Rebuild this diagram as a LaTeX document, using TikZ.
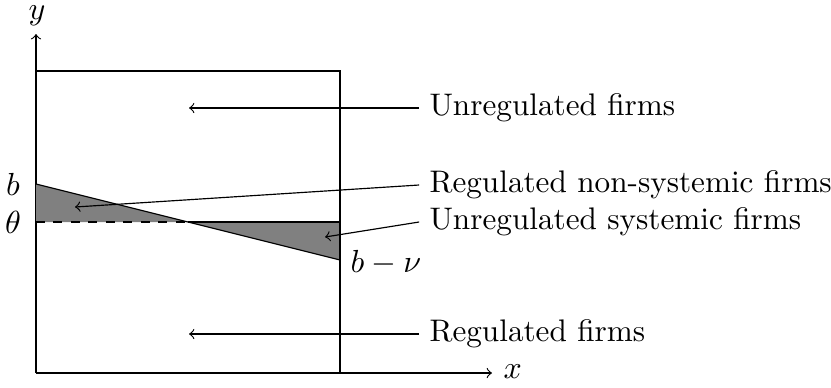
\documentclass[tikz,border=0pt]{standalone}
\usepackage{amsmath}
\usepackage{tikz}
\usetikzlibrary{positioning,arrows.meta,calc}

\begin{document}
\begin{tikzpicture}[x=0.343pt, y=-0.343pt, font=\fontsize{10.7}{13}\selectfont, >=to,
  lbl/.style={anchor=west, inner sep=0pt}]
\useasboundingbox (0,0) rectangle (831,387);
% axes
\coordinate (o) at (36,373);
\coordinate (ytop) at (36,34);
\coordinate (xend) at (492,373);
\draw[->] (o) -- (ytop);
\draw[->] (o) -- (xend);
\node[inner sep=0pt] (ylab) at (37,16) {$y$};
\node[lbl] (xlab) at (503,372) {$x$};
% box
\coordinate (tl) at (36,71);
\coordinate (br) at (340,373);
\draw (tl) -| (br);
% shaded wedges
\coordinate (pb) at (36,184);
\coordinate (pth) at (36,222);
\coordinate (cross) at (188,222);
\coordinate (rth) at (340,222);
\coordinate (pbn) at (340,260);
\fill[gray] (pb) -- (cross) -- (pth) -- cycle;
\fill[gray] (cross) -- (rth) -- (pbn) -- cycle;
\draw (pb) -- (pbn);
\draw[dashed, thin] (pth) -- (cross);
\draw (cross) -- (rth) -- (pbn);
\node (blab) at (13,184) {$b$};
\node (thlab) at (13,222) {$\theta$};
\node[lbl] (bnlab) at (350,263) {$b-\nu$};
% labels
\node[lbl] (unreg) at (429,108) {Unregulated firms};
\node[lbl] (regns) at (429,185) {Regulated non-systemic firms};
\node[lbl] (unregs) at (429,222) {Unregulated systemic firms};
\node[lbl] (reg) at (429,334) {Regulated firms};
\coordinate (a1) at (189,108);
\coordinate (a2) at (75,207);
\coordinate (a3) at (325,237);
\coordinate (a4) at (189,334);
\foreach \l/\t in {unreg/a1,regns/a2,unregs/a3,reg/a4}
  \draw[->] ([xshift=-3.4pt]\l.west) -- (\t);
\end{tikzpicture}
\end{document}
